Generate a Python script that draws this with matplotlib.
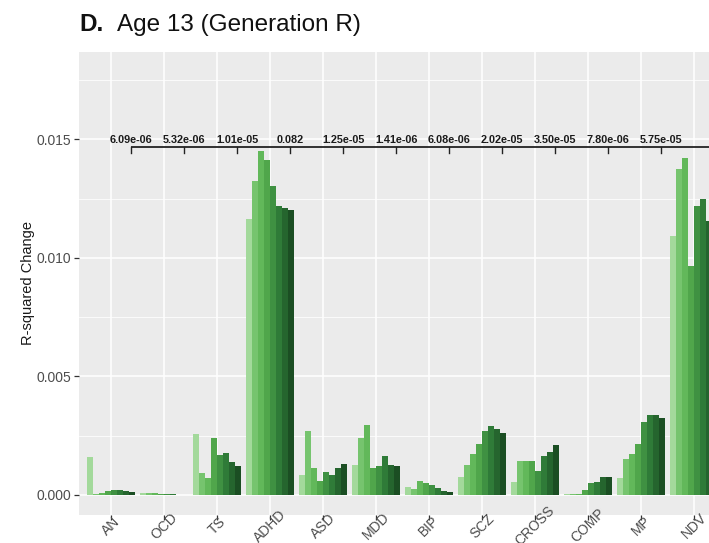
import matplotlib
matplotlib.use("Agg")
import matplotlib.pyplot as plt
import numpy as np

# Disorders (x axis) and the eight nested PRS thresholds per disorder
categories = ["AN", "OCD", "TS", "ADHD", "ASD", "MDD", "BIP", "SCZ",
              "CROSS", "COMP", "MP", "NDV"]

r2_change = {
    "AN":    [0.00158, 0.00003, 0.00008, 0.00018, 0.00022, 0.00019, 0.00015, 0.00011],
    "OCD":   [0.00008, 0.00007, 0.00006, 0.00004, 0.00003, 0.00002, 0.00001, 0.00001],
    "TS":    [0.00258, 0.00094, 0.00073, 0.00240, 0.00169, 0.00176, 0.00137, 0.00123],
    "ADHD":  [0.01165, 0.01324, 0.01450, 0.01412, 0.01305, 0.01221, 0.01211, 0.01201],
    "ASD":   [0.00082, 0.00268, 0.00113, 0.00060, 0.00096, 0.00085, 0.00113, 0.00131],
    "MDD":   [0.00127, 0.00242, 0.00293, 0.00115, 0.00120, 0.00166, 0.00127, 0.00123],
    "BIP":   [0.00032, 0.00024, 0.00060, 0.00049, 0.00040, 0.00028, 0.00018, 0.00011],
    "SCZ":   [0.00077, 0.00127, 0.00172, 0.00215, 0.00270, 0.00289, 0.00279, 0.00262],
    "CROSS": [0.00054, 0.00144, 0.00144, 0.00141, 0.00099, 0.00166, 0.00180, 0.00211],
    "COMP":  [0.00002, 0.00002, 0.00004, 0.00020, 0.00049, 0.00054, 0.00077, 0.00075],
    "MP":    [0.00073, 0.00151, 0.00172, 0.00215, 0.00307, 0.00338, 0.00338, 0.00324],
    "NDV":   [0.01091, 0.01376, 0.01422, 0.00965, 0.01218, 0.01249, 0.01155, 0.01140],
}

# p-values for each disorder compared against NDV
p_labels = ["6.09e-06", "5.32e-06", "1.01e-05", "0.082", "1.25e-05", "1.41e-06",
            "6.08e-06", "2.02e-05", "3.50e-05", "7.80e-06", "5.75e-05"]

y_ticks = [0.000, 0.005, 0.010, 0.015]
y_ticklabels = ["0.000", "0.005", "0.010", "0.015"]

shades = ["#a3d99b", "#76c46e", "#62b85a", "#50a64b", "#3f9142",
          "#2f7b38", "#25652e", "#1b4e23"]

W, H = 709, 543
fig = plt.figure(figsize=(W / 100, H / 100), dpi=100)
left_px, right_px, top_px, bot_px = 79.2, 725.8, 51.7, 515.0
ax = fig.add_axes([left_px / W, (H - bot_px) / H,
                   (right_px - left_px) / W, (bot_px - top_px) / H])

ax.set_facecolor("#EBEBEB")
for s in ax.spines.values():
    s.set_visible(False)

n_thr = len(shades)
group_w = 0.9
bw = group_w / n_thr
x = np.arange(len(categories))
for j in range(n_thr):
    vals = [r2_change[c][j] for c in categories]
    ax.bar(x - group_w / 2 + bw * (j + 0.5), vals, width=bw,
           color=shades[j], linewidth=0, zorder=3)

ax.set_xlim(-0.6, len(categories) - 1 + 0.6)
ax.set_ylim(-0.00085, 0.0187)

ax.set_yticks(y_ticks)
ax.set_yticklabels(y_ticklabels)
ax.set_yticks([0.0025, 0.0075, 0.0125, 0.0175], minor=True)
ax.set_xticks(x)
ax.set_xticklabels(categories, rotation=45, ha="center", va="center",
                   rotation_mode="anchor")

ax.grid(which="major", color="white", linewidth=1.1, zorder=0)
ax.grid(which="minor", axis="y", color="white", linewidth=0.55, zorder=0)
ax.set_axisbelow(True)

ax.tick_params(axis="both", which="major", length=3.5, width=0.9,
               color="#333333", labelcolor="#4d4d4d", labelsize=10)
ax.tick_params(axis="y", which="minor", length=0)
ax.tick_params(axis="x", pad=4.4)
ax.tick_params(axis="y", pad=2)
for lab in ax.get_xticklabels() + ax.get_yticklabels():
    lab.set_fontfamily("Liberation Sans")

ax.set_ylabel("R-squared Change", fontsize=10.5, family="Liberation Sans",
              color="#1a1a1a", labelpad=1)

# Significance bracket: each disorder vs NDV
off = 0.38
line_y, tick_y, lab_y = 0.01466, 0.01444, 0.01497
xs = x + off
ax.plot([xs[0], xs[-1]], [line_y, line_y], color="#222222", lw=1.3,
        zorder=4, clip_on=False, solid_capstyle="butt")
for xi in xs:
    ax.plot([xi, xi], [line_y, tick_y], color="#222222", lw=1.0, zorder=4)
for xi, lab in zip(xs[:-1], p_labels):
    ax.text(xi, lab_y, lab, ha="center", va="center", fontsize=7.8,
            fontweight="bold", family="Liberation Sans", color="#1a1a1a",
            zorder=5)

# Panel title
fig.text(79 / W, 1 - 31 / H, "D.", fontsize=17.5, fontweight="bold",
         va="baseline", ha="left", family="Liberation Sans", color="#111111")
fig.text(117 / W, 1 - 31 / H, "Age 13 (Generation R)", fontsize=17.5,
         va="baseline", ha="left", family="Liberation Sans", color="#111111")

fig.savefig("out.png", dpi=100)
